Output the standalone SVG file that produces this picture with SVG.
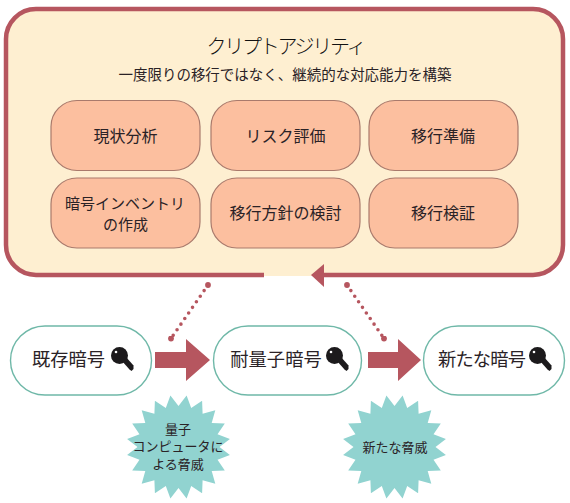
<svg xmlns="http://www.w3.org/2000/svg" xmlns:xlink="http://www.w3.org/1999/xlink" width="570" height="503" viewBox="0 0 570 503">
<style>
text{font-family:"Noto Sans CJK JP","Noto Sans",sans-serif;fill:#2a2226;text-anchor:middle}
.inner{fill:#fcbf9f;stroke:#a97a6c;stroke-width:1.2}
.inner-t{font-size:16px}
.pill{fill:#fff;stroke:#6fb8a8;stroke-width:1.4}
.pill-t{font-size:18.300px}
.star{fill:#91d3d0}
.star-t{font-size:13px}
.solid{fill:#b6565f}
.dots{fill:none;stroke:#b6565f;stroke-width:3.600;stroke-linecap:round;stroke-dasharray:0 6.800;marker-start:url(#dot);marker-end:url(#dot)}
</style>
<defs>
<marker id="dot" viewBox="-3 -3 6 6" markerUnits="userSpaceOnUse" markerWidth="6" markerHeight="6"><circle r="2.900" fill="#b6565f"/></marker>
<g id="key"><circle cx="119.500" cy="355.500" r="8.500" fill="#1c1a1c"/><path d="M122 361L126 357L133.500 365.500L133.500 369L131.500 371L129.500 369.500Z" fill="#1c1a1c"/><circle cx="116" cy="352" r="1.300" fill="#fff"/></g>
<polygon id="burst" class="star" points="0,-41 8.100,-51.400 12.700,-39 23.600,-46.300 24.100,-33.200 36.800,-36.800 33.200,-24.100 46.300,-23.600 39,-12.700 51.400,-8.100 41,0 51.400,8.100 39,12.700 46.300,23.600 33.200,24.100 36.800,36.800 24.100,33.200 23.600,46.300 12.700,39 8.100,51.400 0,41 -8.100,51.400 -12.700,39 -23.600,46.300 -24.100,33.200 -36.800,36.800 -33.200,24.100 -46.300,23.600 -39,12.700 -51.400,8.100 -41,0 -51.400,-8.100 -39,-12.700 -46.300,-23.600 -33.200,-24.100 -36.800,-36.800 -24.100,-33.200 -23.600,-46.300 -12.700,-39 -8.100,-51.400"/>
</defs>
<rect width="570" height="503" fill="#fff"/>
<g id="agility">
<rect x="6" y="9" width="557" height="267" rx="30" fill="#feefd1"/>
<path d="M264 275H36A30 30 0 0 1 6 245V39A30 30 0 0 1 36 9H533A30 30 0 0 1 563 39V245A30 30 0 0 1 533 275H320" fill="none" stroke="#b6565f" stroke-width="4.500"/>
<text x="286.500" y="54" font-size="20px" font-weight="300" textLength="160" style="fill:#111">クリプトアジリティ</text>
<text x="285" y="80" font-size="14.500px" textLength="333">一度限りの移行ではなく、継続的な対応能力を構築</text>
</g>
<g id="n1"><rect class="inner" x="51" y="100.500" width="149" height="70" rx="26"/><text class="inner-t" x="125.500" y="142">現状分析</text></g>
<g id="n2"><rect class="inner" x="211" y="100.500" width="149" height="70" rx="26"/><text class="inner-t" x="285.500" y="142">リスク評価</text></g>
<g id="n3"><rect class="inner" x="369" y="100.500" width="149" height="70" rx="26"/><text class="inner-t" x="443" y="142">移行準備</text></g>
<g id="n4"><rect class="inner" x="51" y="178" width="149" height="70" rx="26"/><text class="inner-t" style="font-size:15px"><tspan x="125" y="209">暗号インベントリ</tspan><tspan x="125.500" y="230">の作成</tspan></text></g>
<g id="n5"><rect class="inner" x="211" y="178" width="149" height="70" rx="26"/><text class="inner-t" x="285.500" y="219">移行方針の検討</text></g>
<g id="n6"><rect class="inner" x="369" y="178" width="149" height="70" rx="26"/><text class="inner-t" x="443" y="219">移行検証</text></g>
<g id="p1"><rect class="pill" x="10.500" y="326" width="141" height="69" rx="34.500"/><text class="pill-t" x="68.500" y="366">既存暗号</text><use href="#key"/></g>
<g id="p2"><rect class="pill" x="213.500" y="326" width="148" height="69" rx="34.500"/><text class="pill-t" x="276" y="366">耐量子暗号</text><use href="#key" x="215"/></g>
<g id="p3"><rect class="pill" x="423.500" y="326" width="141" height="69" rx="34.500"/><text class="pill-t" x="482" y="366" textLength="88">新たな暗号</text><use href="#key" x="418"/></g>
<g id="t1"><use href="#burst" x="178.500" y="447"/><text class="star-t"><tspan x="178" y="433.500">量子</tspan><tspan x="178" y="451">コンピュータに</tspan><tspan x="178" y="468.500">よる脅威</tspan></text></g>
<g id="t2"><use href="#burst" x="394.500" y="447"/><text class="star-t" x="395" y="451.500">新たな脅威</text></g>
<g id="connectors">
<polygon class="solid" points="311,275 324,264 324,287"/>
<polygon class="solid" points="155,352 186,352 186,339 210,360 186,381 186,368 155,368"/>
<polygon class="solid" points="368,352 398,352 398,339 421,360 398,381 398,368 368,368"/>
<path class="dots" d="M208 285L171 338.500"/>
<path class="dots" d="M347 285L384 338.500"/>
</g>
</svg>
